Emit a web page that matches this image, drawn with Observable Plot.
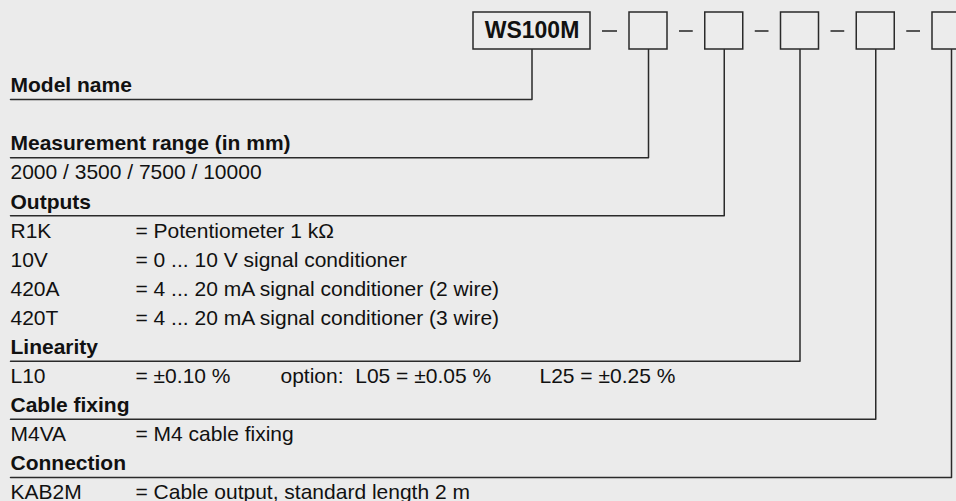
<!DOCTYPE html>
<html><head><meta charset="utf-8">
<script src="https://cdn.jsdelivr.net/npm/d3@7"></script>
<script src="https://cdn.jsdelivr.net/npm/@observablehq/plot@0.6"></script>
<style>
html,body{margin:0;padding:0;background:#ebebeb;overflow:hidden;width:956px;height:501px}
svg{display:block;background:#ebebeb}
</style>
</head><body><div id="chart"></div>
<script>
// ---------- data ----------
const modelName = "WS100M";
const fieldNames = ["Model name", "Measurement range (in mm)", "Outputs", "Linearity", "Cable fixing", "Connection"];
const rangesMm = [2000, 3500, 7500, 10000];
const outputCodes = ["R1K", "10V", "420A", "420T"];
const outputDescs = ["= Potentiometer 1 k\u03A9", "= 0 ... 10 V signal conditioner", "= 4 ... 20 mA signal conditioner (2 wire)", "= 4 ... 20 mA signal conditioner (3 wire)"];
const linearityCodes = ["L10"];
const linearityDescs = ["= \u00B10.10 %"];
const linearityOptions = ["option:  L05 = \u00B10.05 %", "L25 = \u00B10.25 %"];
const cableCodes = ["M4VA"];
const cableDescs = ["= M4 cable fixing"];
const connectionCodes = ["KAB2M"];
const connectionDescs = ["= Cable output, standard length 2 m"];

// ---------- layout ----------
const W = 956, H = 501;
const LEFT = 10, DESC_X = 135, OPT_X = [280, 539];
const ROW0 = 85, ROW_STEP = 29.07, LINE_OFF = 14;
const BOX_TOP = 12, BOX_BOTTOM = 49, DASH_Y = 30.5;
const FIRST_BOX = [473, 590];
const SMALL_START = 629, SMALL_STEP = 75.75, SMALL_W = 38, DASH_GAP = 12;
const rowY = r => ROW0 + r * ROW_STEP;

// build the text rows
const rows = [];
const headerRow = {};
let r = 0;
function header(name) { headerRow[name] = r; rows.push({row: r++, text: name, bold: true}); }
function items(codes, descs) { codes.forEach((c, i) => rows.push({row: r++, code: c, desc: descs ? descs[i] : null})); }
header(fieldNames[0]); r++;
header(fieldNames[1]); items([rangesMm.join(" / ")]);
header(fieldNames[2]); items(outputCodes, outputDescs);
header(fieldNames[3]); const linRow = r; items(linearityCodes, linearityDescs);
header(fieldNames[4]); items(cableCodes, cableDescs);
header(fieldNames[5]); items(connectionCodes, connectionDescs);

// boxes
const boxes = fieldNames.map((f, i) => {
  const x1 = i === 0 ? FIRST_BOX[0] : SMALL_START + (i - 1) * SMALL_STEP;
  const x2 = i === 0 ? FIRST_BOX[1] : x1 + SMALL_W;
  return {field: f, label: i === 0 ? modelName : "", x1, x2, cx: (x1 + x2) / 2};
});
const dashes = boxes.slice(1).map((b, i) => ({x1: boxes[i].x2 + DASH_GAP, x2: b.x1 - DASH_GAP, y: DASH_Y}));
const connectors = boxes.flatMap(b => {
  const ly = rowY(headerRow[b.field]) + LINE_OFF;
  return [{f: b.field, x: b.cx, y: BOX_BOTTOM}, {f: b.field, x: b.cx, y: ly}, {f: b.field, x: LEFT, y: ly}];
});
const optionTexts = linearityOptions.map((t, i) => ({text: t, x: OPT_X[i], row: linRow}));

const font = "'Liberation Sans', Arial, Helvetica, sans-serif";
const chart = Plot.plot({
  width: W, height: H, margin: 0,
  style: {background: "#ebebeb", fontFamily: font, overflow: "hidden"},
  x: {type: "linear", domain: [0, W], range: [0, W], axis: null},
  y: {type: "linear", domain: [0, H], range: [0, H], axis: null},
  marks: [
    Plot.line(connectors, {x: "x", y: "y", z: "f", stroke: "#2a2a2a", strokeWidth: 1.5, curve: "linear"}),
    Plot.rect(boxes, {x1: "x1", x2: "x2", y1: () => BOX_TOP, y2: () => BOX_BOTTOM, fill: "#ececec", stroke: "#2a2a2a", strokeWidth: 1.5}),
    Plot.ruleY(dashes, {x1: "x1", x2: "x2", y: "y", stroke: "#555", strokeWidth: 2}),
    Plot.text(boxes.filter(b => b.label), {x: "cx", y: () => (BOX_TOP + BOX_BOTTOM) / 2, text: "label", fontSize: 23, fontWeight: "bold", fill: "#111", textAnchor: "middle"}),
    Plot.text(rows.filter(d => d.bold), {x: () => LEFT, y: d => rowY(d.row), text: "text", fontSize: 21, fontWeight: "bold", fill: "#111", textAnchor: "start"}),
    Plot.text(rows.filter(d => d.code), {x: () => LEFT, y: d => rowY(d.row), text: "code", fontSize: 21, fill: "#111", textAnchor: "start"}),
    Plot.text(rows.filter(d => d.desc), {x: () => DESC_X, y: d => rowY(d.row), text: "desc", fontSize: 21, fill: "#111", textAnchor: "start"}),
    Plot.text(optionTexts, {x: "x", y: d => rowY(d.row), text: "text", fontSize: 21, fill: "#111", textAnchor: "start"})
  ]
});
document.getElementById("chart").appendChild(chart);
</script>
</body></html>
